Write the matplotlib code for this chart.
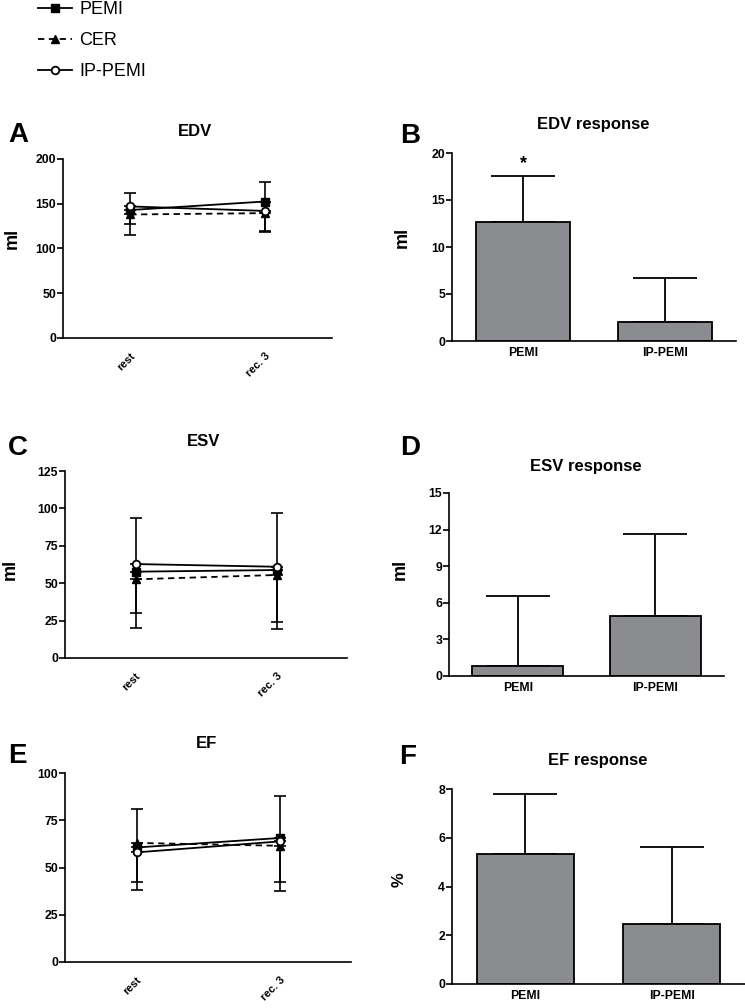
import numpy as np
import matplotlib.pyplot as plt

plt.rcParams['font.family'] = ['Liberation Sans', 'DejaVu Sans']
plt.rcParams['font.weight'] = 'bold'
plt.rcParams['axes.linewidth'] = 1.2

times = ['rest', 'rec. 3']
groups = ['PEMI', 'IP-PEMI']

# line panels: mean at rest / rec. 3 and error (PEMI drawn above, CER and IP-PEMI below)
edv_pemi = [143, 152.5]
edv_cer = [138, 139.5]
edv_ip = [147, 142]
edv_pemi_sd = [19.5, 21.5]
edv_cer_sd = [23, 21.5]
edv_ip_sd = [20, 22]

esv_pemi = [57.7, 58.8]
esv_cer = [52.6, 55.5]
esv_ip = [62.8, 61]
esv_pemi_sd = [35.7, 37.9]
esv_cer_sd = [32.6, 31.2]
esv_ip_sd = [32.8, 41.6]

ef_pemi = [60.6, 65.6]
ef_cer = [63, 61.5]
ef_ip = [58, 63.8]
ef_pemi_sd = [20.4, 22.4]
ef_cer_sd = [24.7, 23.7]
ef_ip_sd = [15.5, 21.3]

# response bars: PEMI, IP-PEMI
edv_resp = [12.66, 2.0]
edv_resp_sd = [4.9, 4.7]
esv_resp = [0.82, 4.95]
esv_resp_sd = [5.73, 6.7]
ef_resp = [5.35, 2.48]
ef_resp_sd = [2.45, 3.15]

W, H = 745, 1008
fig = plt.figure(figsize=(W / 100, H / 100), dpi=100)


def px_axes(left, right, top, bottom):
    return fig.add_axes([left / W, 1 - bottom / H, (right - left) / W, (bottom - top) / H])


def style_axes(ax):
    for s in ['top', 'right']:
        ax.spines[s].set_visible(False)
    ax.tick_params(axis='y', direction='out', length=4, width=1.2, labelsize=8.8, pad=1)


def line_panel(ax, pemi, cer, ip, pemi_sd, cer_sd, ip_sd, ymax, yticks):
    x = np.arange(len(times))
    zero = [0] * len(times)
    kw = dict(fmt='none', ecolor='black', elinewidth=1.2, capsize=4.5, capthick=1.2, zorder=2)
    ax.errorbar(x, pemi, yerr=[zero, pemi_sd], **kw)
    ax.errorbar(x, cer, yerr=[cer_sd, zero], **kw)
    ax.errorbar(x, ip, yerr=[ip_sd, zero], **kw)
    lines = []
    lines += ax.plot(x, pemi, color='black', lw=1.3, marker='s', ms=5.5, mfc='black', zorder=3, label='PEMI')
    lines += ax.plot(x, cer, color='black', lw=1.3, ls=(0, (3.5, 2.5)), marker='^', ms=5.5, mfc='black',
                     zorder=3, label='CER')
    lines += ax.plot(x, ip, color='black', lw=1.3, marker='o', ms=5.5, mfc='white', mew=1.3, zorder=4,
                     label='IP-PEMI')
    ax.set_xlim(-0.5, 1.5)
    ax.set_ylim(0, ymax)
    ax.set_yticks(yticks)
    ax.set_xticks(x)
    ax.set_xticklabels(times, rotation=45, ha='right', rotation_mode='anchor', fontsize=8)
    ax.tick_params(axis='x', length=0, pad=9)
    style_axes(ax)
    return lines


def bar_panel(ax, vals, sds, ymax, yticks, star=False):
    x = np.arange(len(groups))
    ax.bar(x, vals, width=0.66, color='#8b8c90', edgecolor='black', linewidth=1.3, zorder=2)
    ax.errorbar(x, vals, yerr=[[0] * len(vals), sds], fmt='none', ecolor='black', elinewidth=1.3,
                capsize=23, capthick=1.3, zorder=1)
    if star:
        ax.annotate('*', (0, vals[0] + sds[0]), xytext=(0, 3), textcoords='offset points',
                    ha='center', va='bottom', fontsize=13)
    ax.set_xlim(-0.5, 1.5)
    ax.set_ylim(0, ymax)
    ax.set_yticks(yticks)
    ax.set_xticks(x)
    ax.set_xticklabels(groups, fontsize=8.8)
    ax.tick_params(axis='x', length=0, pad=4)
    style_axes(ax)


axA = px_axes(63, 332, 159, 338)
handles = line_panel(axA, edv_pemi, edv_cer, edv_ip, edv_pemi_sd, edv_cer_sd, edv_ip_sd, 200, [0, 50, 100, 150, 200])
axC = px_axes(65, 347, 471, 658)
line_panel(axC, esv_pemi, esv_cer, esv_ip, esv_pemi_sd, esv_cer_sd, esv_ip_sd, 125, [0, 25, 50, 75, 100, 125])
axE = px_axes(65, 351, 773, 962)
line_panel(axE, ef_pemi, ef_cer, ef_ip, ef_pemi_sd, ef_cer_sd, ef_ip_sd, 100, [0, 25, 50, 75, 100])

axB = px_axes(452, 736, 153, 341)
bar_panel(axB, edv_resp, edv_resp_sd, 20, [0, 5, 10, 15, 20], star=True)
axD = px_axes(449, 724, 493, 676)
bar_panel(axD, esv_resp, esv_resp_sd, 15, [0, 3, 6, 9, 12, 15])
axF = px_axes(452, 745, 789, 984)
bar_panel(axF, ef_resp, ef_resp_sd, 8, [0, 2, 4, 6, 8])


def ftext(x, y, s, **kw):
    fig.text(x / W, 1 - y / H, s, ha='center', va='center', **kw)


# panel letters
for letter, (x, y) in zip('ABCDEF', [(18, 135), (410, 136), (18, 448), (410, 448), (17, 756), (408, 757)]):
    ftext(x, y, letter, fontsize=20)

# titles
ftext(195, 132, 'EDV', fontsize=12)
ftext(593, 124, 'EDV response', fontsize=12)
ftext(204, 442, 'ESV', fontsize=12)
ftext(586, 466, 'ESV response', fontsize=12)
ftext(206, 744, 'EF', fontsize=12)
ftext(598, 761, 'EF response', fontsize=12)

# y labels
ftext(12, 238, 'ml', fontsize=13, rotation=90)
ftext(402, 237, 'ml', fontsize=13, rotation=90)
ftext(10, 569, 'ml', fontsize=13, rotation=90)
ftext(400, 569, 'ml', fontsize=13, rotation=90)
ftext(399, 880, '%', fontsize=12, rotation=90)

fig.legend(handles=handles, loc='upper left', bbox_to_anchor=(38 / W, 0.999), frameon=False,
           prop={'size': 13, 'weight': 'normal'}, handlelength=1.9, handletextpad=0.4,
           labelspacing=0.78, borderpad=0, borderaxespad=0)

fig.savefig('out.png', dpi=100)
